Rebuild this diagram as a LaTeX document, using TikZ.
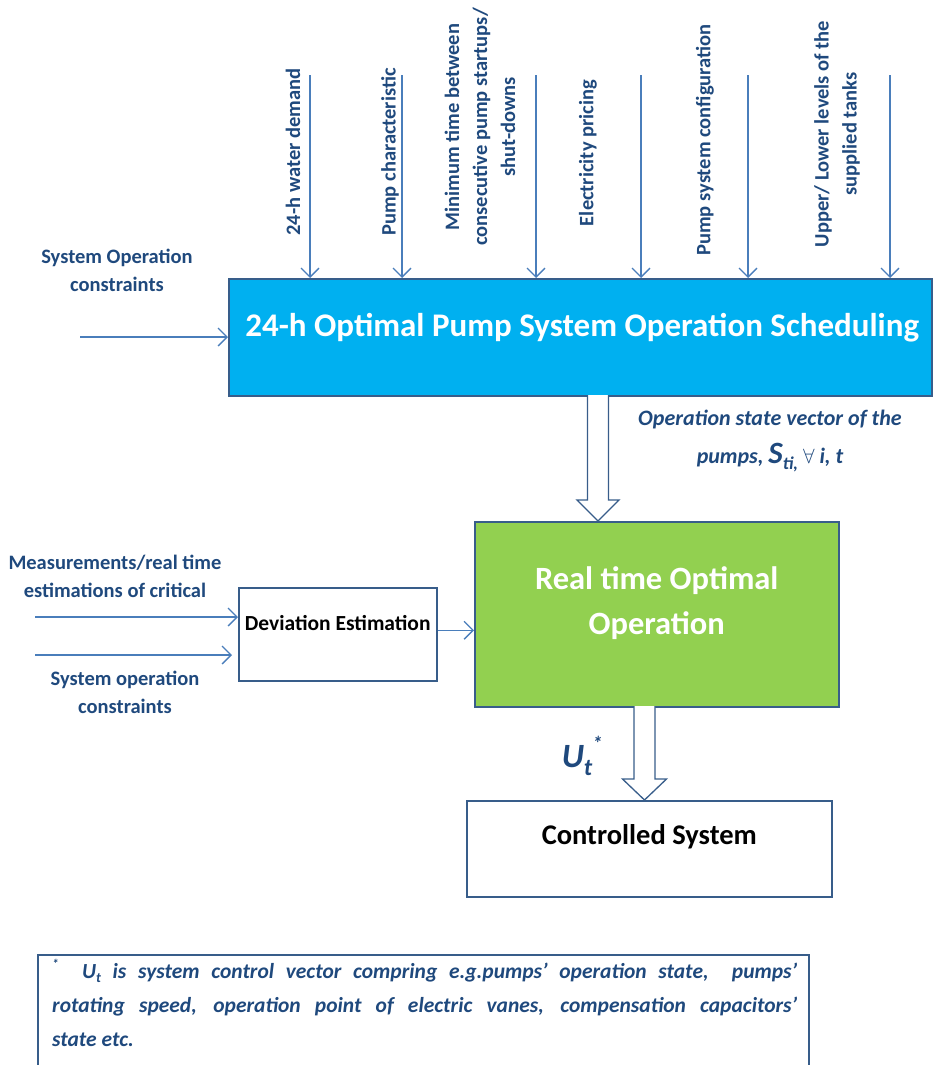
\documentclass[tikz,border=0pt]{standalone}
\usepackage{fontspec}
\setmainfont{Carlito}
\usetikzlibrary{arrows.meta,calc}
\definecolor{navy}{RGB}{31,73,125}
\definecolor{linkblue}{RGB}{74,126,187}
\definecolor{schedblue}{RGB}{0,176,240}
\definecolor{rtgreen}{RGB}{146,208,80}
\definecolor{edge}{RGB}{56,93,138}
\tikzset{
  lbl/.style={text=navy,font=\fontsize{20.5}{28}\selectfont\bfseries,align=center,inner sep=0pt},
  feed/.style={draw=linkblue,line width=1.3pt,-{Straight Barb[length=9pt,width=18pt]}},
  fatarrow/.style={draw=edge,line width=1.3pt,fill=white,line join=miter},
  blk/.style={draw=edge,line width=1.5pt,anchor=north west,inner sep=0pt},
}
\begin{document}
\begin{tikzpicture}[x=1pt,y=-1pt]
\useasboundingbox (0,0) rectangle (933,1065);

% scheduling block with its inputs
\node[blk,fill=schedblue,minimum width=703pt,minimum height=117pt] (sched) at (228,278) {};
\node[text=white,font=\fontsize{33}{40}\selectfont\bfseries] (schedtxt) at ($(sched.center)+(2,-10)$) {24-h Optimal Pump System Operation Scheduling};

\node[lbl,rotate=90] (lwater) at (293,152) {24-h water demand};
\node[lbl,rotate=90] (lpump) at (390,152) {Pump characteristic};
\node[lbl,rotate=90] (lmin) at (480,127) {Minimum time between\\consecutive pump startups/\\shut-downs};
\node[lbl,rotate=90] (lprice) at (588,153) {Electricity pricing};
\node[lbl,rotate=90] (lconf) at (705,140) {Pump system configuration};
\node[lbl,rotate=90] (ltank) at (837,134) {Upper/ Lower levels of the\\supplied tanks};

\foreach \px/\nm in {310/cw,402/cp,536/cm,641/ce,748/cc,890/ct}{
  \coordinate (\nm) at (\px,75);
  \draw[feed] (\nm) -- (\nm |- sched.north);
}

\node[lbl] (lsoc) at (117,270) {System Operation\\constraints};
\coordinate (socin) at (80,337);
\draw[feed] (socin) -- (socin -| sched.west);

% state vector to real time block
\coordinate (s1top) at (598,395);
\draw[fatarrow] (s1top) ++(-10.5,0) -- ++(0,105) -- ++(-10.5,0) -- ++(21,21) -- ++(21,-21) -- ++(-10.5,0) -- ++(0,-105);
\node[text=navy,font=\fontsize{22}{38}\selectfont\bfseries\itshape,align=center] (lstate) at (770,441) {Operation state vector of the\\pumps, {\fontsize{31}{31}\selectfont S}\raisebox{-0.3em}{\fontsize{18}{18}\selectfont ti,} $\forall$ \textit{i}, \textit{t}};

% real time block
\node[blk,fill=rtgreen,minimum width=364pt,minimum height=185pt] (rto) at (474,521) {};
\node[text=white,font=\fontsize{32.5}{45}\selectfont\bfseries,align=center] (rtotxt) at ($(rto.center)+(0,-11)$) {Real time Optimal\\Operation};

% deviation estimation
\node[blk,minimum width=198pt,minimum height=93pt] (dev) at (238,587) {};
\node[font=\fontsize{21.5}{24}\selectfont\bfseries,inner sep=0pt] (devtxt) at ($(dev.center)+(0,-11)$) {Deviation Estimation};

\node[lbl] (lmeas) at (115,576) {Measurements/real time\\estimations of critical};
\node[lbl] (lsoc2) at (125,692) {System operation\\constraints};
\coordinate (measin) at (35,617);
\coordinate (socin2) at (35,655);
\draw[feed] (measin) -- (measin -| dev.west);
\draw[feed] (socin2) -- ($(socin2 -| dev.west)+(-6,0)$);
\draw[feed] ($(dev.east)+(0,-4)$) -- ($(dev.east -| rto.west)+(0,-4)$);

% control vector to controlled system
\coordinate (s2top) at (644.5,706);
\draw[fatarrow] (s2top) ++(-10.5,0) -- ++(0,73) -- ++(-11.5,0) -- ++(22,21) -- ++(22,-21) -- ++(-11.5,0) -- ++(0,-73);
\node[text=navy,font=\fontsize{34}{40}\selectfont\bfseries\itshape,inner sep=0pt] (lu) at (582,756) {U\raisebox{-0.22em}{\fontsize{24}{24}\selectfont t}\raisebox{0.5em}{\fontsize{20}{20}\selectfont *}};

\node[blk,minimum width=365pt,minimum height=96pt] (ctrl) at (466,800) {};
\node[font=\fontsize{28.5}{32}\selectfont\bfseries] (ctrltxt) at ($(ctrl.center)+(0,-12)$) {Controlled System};

% footnote
\draw[edge,line width=1.3pt] (38,1075) -- (38,955) -- (809,955) -- (809,1075);
\node[text=navy,font=\fontsize{21.5}{34}\selectfont\bfseries\itshape,text width=745pt,align=justify,anchor=north west,inner sep=0pt] (note) at (52,959)
  {\raisebox{0.45em}{\fontsize{13}{13}\selectfont *}\ \ U\raisebox{-0.2em}{\fontsize{14}{14}\selectfont t} is system control vector compring e.g.pumps’ operation state,\ \ pumps’\linebreak rotating speed, operation point of electric vanes, compensation capacitors’\linebreak state etc.};
\end{tikzpicture}
\end{document}
